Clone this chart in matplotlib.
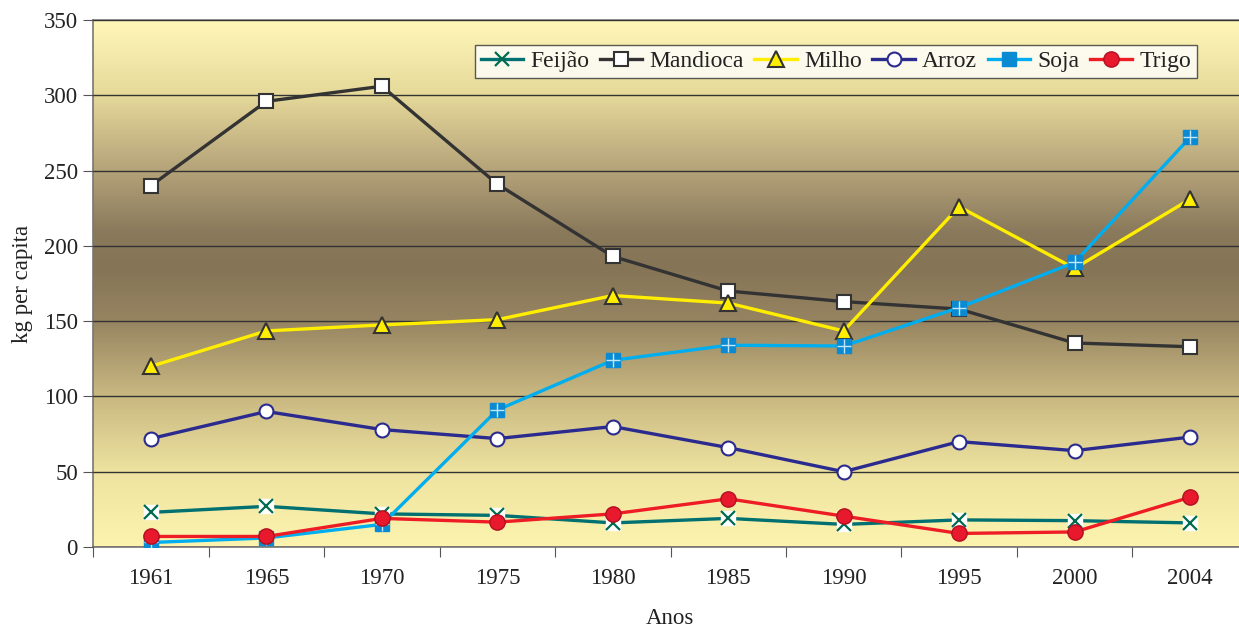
import numpy as np
import matplotlib
matplotlib.use("Agg")
import matplotlib.pyplot as plt
from matplotlib.colors import LinearSegmentedColormap
from matplotlib.lines import Line2D

years = ["1961", "1965", "1970", "1975", "1980", "1985", "1990", "1995", "2000", "2004"]
feijao = [23, 27, 22, 21, 16, 19, 15, 18, 17.5, 16]
mandioca = [240, 296, 306, 241, 193, 170, 163, 158, 135.5, 133]
milho = [120, 143.5, 147.5, 151, 167, 162, 143.5, 226, 185, 231]
arroz = [72, 90, 78, 72, 80, 66, 50, 70, 64, 73]
soja = [3, 6, 15, 91, 124, 134, 133.5, 159, 189, 272]
trigo = [7, 7, 19, 16.5, 22, 32, 20.5, 9, 10, 33]

plt.rcParams['font.family'] = ['Liberation Serif', 'DejaVu Serif']

fig = plt.figure(figsize=(12.39, 6.27), dpi=100)
ax = fig.add_axes([93.25/1239, 1-547/627, (1247.75-93.25)/1239, 527/627])

# gradient background
stops = [(0.0, "#fcf4ae"), (0.14, "#eee3a0"), (0.29, "#c8b780"), (0.43, "#968461"),
         (0.53, "#857456"), (0.6, "#8a7a5c"), (0.72, "#b6a47a"), (0.86, "#e6d99a"), (1.0, "#fff7b8")]
cmap = LinearSegmentedColormap.from_list("bg", stops)
grad = np.linspace(0, 1, 512).reshape(-1, 1)
ax.imshow(grad, aspect='auto', cmap=cmap, origin='lower',
          extent=[0, 1, 0, 1], transform=ax.transAxes, zorder=0)

x = np.arange(len(years))
lw = 2.4

ax.plot(x, feijao, color="#007070", lw=lw, zorder=3)
ax.plot(x, feijao, ls='none', marker='s', ms=10, mfc='white', mec='white', zorder=3)
ax.plot(x, feijao, ls='none', marker='x', ms=10, mew=1.6, color="#006b50", zorder=3)

ax.plot(x, mandioca, color="#333333", lw=lw, marker='s', ms=10, mfc='white', mec='#333333', mew=1.5, zorder=4)
ax.plot(x, milho, color="#ffee00", lw=lw, marker='^', ms=11, mfc='#ffee00', mec='#333333', mew=1.5, zorder=5)
ax.plot(x, arroz, color="#2b2b8f", lw=lw, marker='o', ms=10, mfc='white', mec='#2b2b8f', mew=1.5, zorder=6)
ax.plot(x, soja, color="#00aeef", lw=lw, marker='s', ms=10, mfc='#0a8ad2', mec='#0a8ad2', zorder=7)
ax.plot(x, soja, ls='none', marker='+', ms=10, mew=1.0, color="#bfe6fa", zorder=7)
ax.plot(x, trigo, color="#ee1c25", lw=lw, marker='o', ms=11, mfc='#e8192c', mec='#b01020', mew=1.0, zorder=8)

ax.set_xlim(-0.5, len(years) - 0.5)
ax.set_ylim(0, 350)
ax.set_yticks(np.arange(0, 351, 50))
ax.yaxis.grid(True, color="#333333", lw=1.0)
ax.set_axisbelow(False)
for gl in ax.get_ygridlines():
    gl.set_zorder(1)

ax.set_xticks(np.arange(-0.5, len(years), 1.0))
ax.set_xticklabels([])
ax.set_xticks(x, minor=True)
ax.set_xticklabels(years, minor=True)
ax.tick_params(axis='x', which='minor', length=0, pad=15, labelsize=16.5, labelcolor='#222222')
ax.tick_params(axis='x', which='major', length=7, direction='out', color='#555555')
ax.tick_params(axis='y', length=7, direction='out', color='#555555', labelsize=16.5, labelcolor='#222222', pad=4)

for s in ['left', 'bottom', 'top']:
    ax.spines[s].set_color('#777777')
    ax.spines[s].set_linewidth(1.2)
ax.spines['right'].set_visible(False)

ax.set_ylabel("kg per capita", fontsize=16.5, color='#222222', labelpad=8)
fig.text(670/1239, 1-618/627, "Anos", fontsize=16.5, color='#222222', ha='center', va='center')

handles = [
    Line2D([], [], color="#007070", lw=lw, marker='x', ms=10, mew=1.6, mec="#006b50"),
    Line2D([], [], color="#333333", lw=lw, marker='s', ms=10, mfc='white', mec='#333333', mew=1.5),
    Line2D([], [], color="#ffee00", lw=lw, marker='^', ms=11, mfc='#ffee00', mec='#333333', mew=1.5),
    Line2D([], [], color="#2b2b8f", lw=lw, marker='o', ms=10, mfc='white', mec='#2b2b8f', mew=1.5),
    Line2D([], [], color="#00aeef", lw=lw, marker='s', ms=10, mfc='#0a8ad2', mec='#0a8ad2'),
    Line2D([], [], color="#ee1c25", lw=lw, marker='o', ms=11, mfc='#e8192c', mec='#b01020', mew=1.0),
]
labels = ["Feijão", "Mandioca", "Milho", "Arroz", "Soja", "Trigo"]
leg = fig.legend(handles, labels, ncol=6, loc='upper right',
                 bbox_to_anchor=(1197/1239, 1-45/627), fontsize=17,
                 frameon=True, fancybox=False, edgecolor='#333333',
                 handlelength=1.8, handletextpad=0.3, columnspacing=0.45,
                 borderpad=0.25, borderaxespad=0)
leg.get_frame().set_linewidth(1.0)
for t in leg.get_texts():
    t.set_color('#222222')

fig.savefig("out.png", dpi=100)
